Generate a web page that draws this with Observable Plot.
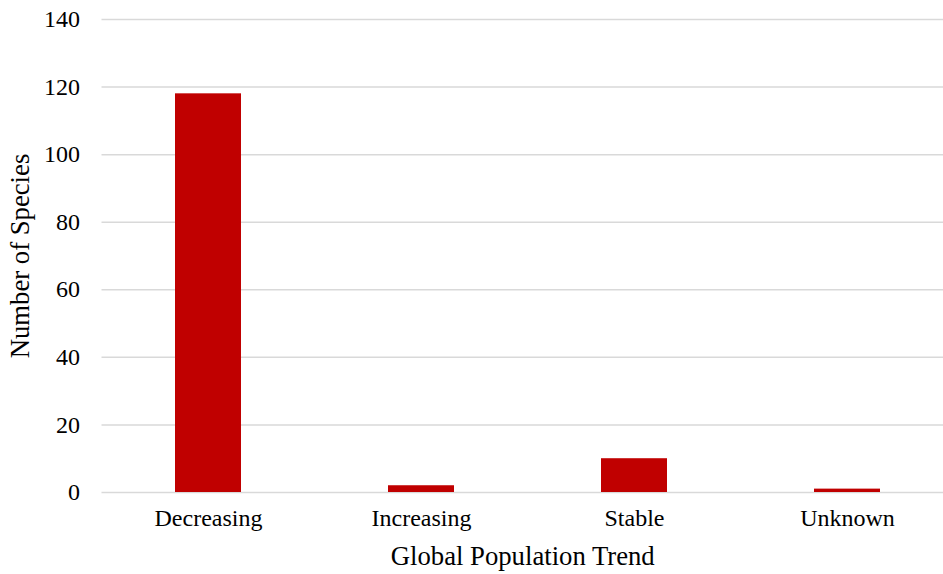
<!DOCTYPE html>
<html>
<head>
<meta charset="utf-8">
<script src="https://cdn.jsdelivr.net/npm/d3@7"></script>
<script src="https://cdn.jsdelivr.net/npm/@observablehq/plot@0.6"></script>
<style>
  html, body { margin: 0; padding: 0; background: #fff; }
  svg, svg text, svg g { font-family: "Liberation Serif", "Times New Roman", serif !important; }
</style>
</head>
<body>
<div id="chart"></div>
<script>
const categories = ["Decreasing", "Increasing", "Stable", "Unknown"];
const speciesCounts = [118, 2, 10, 1];
const yTicks = [0, 20, 40, 60, 80, 100, 120, 140];

const data = categories.map((c, i) => ({trend: c, count: speciesCounts[i]}));

const chart = Plot.plot({
  width: 943,
  height: 574,
  marginTop: 19,
  marginBottom: 82,
  marginLeft: 101.5,
  marginRight: 0,
  style: {fontFamily: "'Liberation Serif', 'Times New Roman', serif", fontSize: "24px", color: "#000", background: "#fff"},
  x: {domain: categories, range: [101.5, 953.5], paddingInner: 0.69, paddingOuter: 0.345},
  y: {domain: [0, 140]},
  marks: [
    Plot.gridY(yTicks, {stroke: "#d9d9d9", strokeOpacity: 1, strokeWidth: 1.5}),
    Plot.barY(data, {x: "trend", y: "count", fill: "#C00000"}),
    Plot.axisY(yTicks, {tickSize: 0, tickPadding: 22, fontSize: 24, fontVariant: "normal", label: "Number of Species", labelAnchor: "center", labelArrow: "none", labelOffset: 92}),
    Plot.axisX({tickSize: 0, tickPadding: 16, fontSize: 24, label: "Global Population Trend", labelAnchor: "center", labelArrow: "none", labelOffset: 72})
  ]
});
chart.querySelectorAll("g[aria-label='x-axis label'] text, g[aria-label='y-axis label'] text").forEach(t => t.setAttribute("font-size", "26.7"));
document.getElementById("chart").appendChild(chart);
</script>
</body>
</html>
